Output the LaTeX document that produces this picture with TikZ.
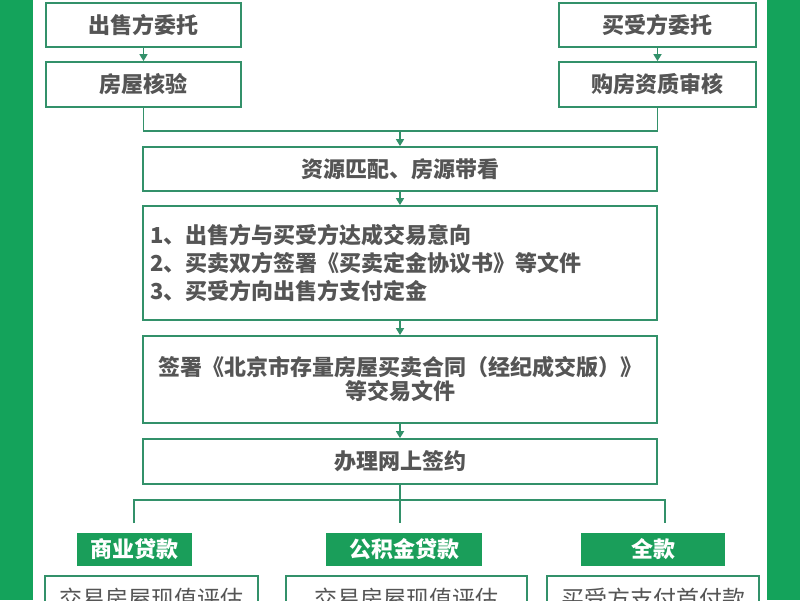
\documentclass[tikz,border=0pt]{standalone}
\usepackage{fontspec}
\setmainfont{Noto Sans CJK SC}
\usetikzlibrary{arrows.meta}
\definecolor{strip}{HTML}{14A35B}
\definecolor{edge}{HTML}{33916A}
\definecolor{fillg}{HTML}{1A9E5A}
\definecolor{txt}{HTML}{555555}
\tikzset{
  box/.style={draw=edge, line width=1.8pt, fill=white, inner sep=0pt, text=txt,
    font=\fontsize{22}{28}\selectfont\bfseries},
  lowbox/.style={box, font=\fontsize{23}{28}\selectfont},
  tag/.style={fill=fillg, inner sep=0pt, text=white,
    font=\fontsize{22}{28}\selectfont\bfseries},
  link/.style={draw=edge, line width=1.6pt},
  arr/.style={link, -{Triangle[width=8pt,length=7pt]}}
}
\begin{document}
\begin{tikzpicture}[x=1pt,y=-1pt]
\useasboundingbox (0,0) rectangle (800,600);
\fill[white] (0,0) rectangle (800,600);
\fill[strip] (0,0) rectangle (33,600);
\fill[strip] (767,0) rectangle (800,600);

\node[box, minimum width=195pt, minimum height=44pt] (b1) at (143.5,25) {出售方委托};
\node[box, minimum width=195pt, minimum height=45pt] (b2) at (143.5,84.5) {房屋核验};
\node[box, minimum width=197pt, minimum height=44pt] (b3) at (657.5,25) {买受方委托};
\node[box, minimum width=197pt, minimum height=45pt] (b4) at (657.5,84.5) {购房资质审核};

\node[box, minimum width=514pt, minimum height=44pt] (c1) at (400,169) {资源匹配、房源带看};
\node[box, minimum width=514pt, minimum height=114pt, text width=500pt, inner xsep=7pt, align=left] (c2) at (400,263)
  {1、出售方与买受方达成交易意向\\2、买卖双方签署《买卖定金协议书》等文件\\3、买受方向出售方支付定金};
\node[box, minimum width=514pt, minimum height=87pt, align=center, font=\fontsize{22}{24}\selectfont\bfseries] (c3) at (400,379.5)
  {签署《北京市存量房屋买卖合同（经纪成交版）》\\等交易文件};
\node[box, minimum width=514pt, minimum height=45pt] (c4) at (400,461.5) {办理网上签约};

\node[tag, minimum width=115pt, minimum height=33pt] (g1) at (134.5,549.5) {商业贷款};
\node[tag, minimum width=156pt, minimum height=33pt] (g2) at (404,549.5) {公积金贷款};
\node[tag, minimum width=144pt, minimum height=33pt] (g3) at (653,549.5) {全款};

\node[lowbox, minimum width=213pt, minimum height=46pt] (d1) at (151.5,599) {交易房屋现值评估};
\node[lowbox, minimum width=241pt, minimum height=46pt] (d2) at (406.5,599) {交易房屋现值评估};
\node[lowbox, minimum width=212pt, minimum height=46pt] (d3) at (653,599) {买受方支付首付款};

\draw[arr] (b1) -- (b2);
\draw[arr] (b3) -- (b4);
\coordinate (ml) at (143.5,131);
\coordinate (mr) at (657.5,131);
\coordinate (mm) at (400,131);
\draw[link] (b2.south) -- (ml) -- (mr) -- (b4.south);
\draw[arr] (mm) -- (c1.north);
\draw[arr] (c1) -- (c2);
\draw[arr] (c2) -- (c3);
\draw[arr] (c3) -- (c4);

\coordinate (jl) at (134,500);
\coordinate (jr) at (665,500);
\coordinate (el) at (134,523);
\coordinate (er) at (665,523);
\coordinate (em) at (400,523);
\draw[link] (c4.south) -- (em);
\draw[link] (el) -- (jl) -- (jr) -- (er);
\end{tikzpicture}
\end{document}
